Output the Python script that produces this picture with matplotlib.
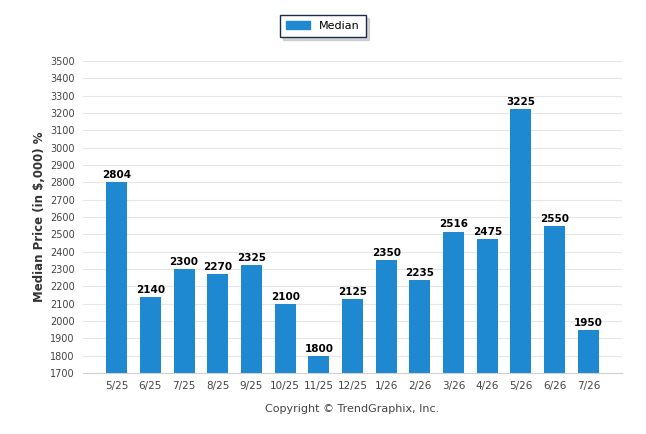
import matplotlib.pyplot as plt
from matplotlib.patches import Patch

months = ['5/25', '6/25', '7/25', '8/25', '9/25', '10/25', '11/25', '12/25',
          '1/26', '2/26', '3/26', '4/26', '5/26', '6/26', '7/26']
median = [2804, 2140, 2300, 2270, 2325, 2100, 1800, 2125,
          2350, 2235, 2516, 2475, 3225, 2550, 1950]
yticks = list(range(1700, 3501, 100))

blue = '#1e88d0'

fig = plt.figure(figsize=(6.46, 4.34), dpi=100)
ax = fig.add_axes([83 / 646, 61 / 434, 539 / 646, 312 / 434])

x = list(range(len(months)))
ax.bar(x, median, width=0.62, color=blue, zorder=2)
for xi, v in zip(x, median):
    ax.text(xi, v + 12, str(v), ha='center', va='bottom', fontsize=7.5,
            fontweight='bold', color='black')

ax.set_xlim(-1, 15)
ax.set_ylim(1700, 3500)
ax.set_yticks(yticks)
ax.set_yticklabels([str(t) for t in yticks], fontsize=7, color='#444444')
ax.set_xticks(x)
ax.set_xticklabels(months, fontsize=7.5, color='#444444')
ax.tick_params(axis='both', length=0, pad=6)
ax.grid(axis='y', color='#e6e6e6', linewidth=0.8, zorder=0)
for s in ['top', 'right', 'left']:
    ax.spines[s].set_visible(False)
ax.spines['bottom'].set_color('#d0d0d0')

ax.set_ylabel('Median Price (in $,000) %', fontsize=8.5, fontweight='bold',
              color='#333333', labelpad=3)

leg = fig.legend(handles=[Patch(color=blue, label='Median')], loc='center',
                 bbox_to_anchor=(323 / 646, 1 - 26 / 434), fontsize=8,
                 frameon=True, fancybox=False,
                 shadow={'color': '#bbbbbb', 'alpha': 0.6},
                 handlelength=2.2, handleheight=0.8, borderpad=0.55,
                 borderaxespad=0)
leg.get_frame().set_edgecolor('#1a2a4a')
leg.get_frame().set_linewidth(1.0)

fig.text(352 / 646, 1 - 409 / 434, 'Copyright \u00a9 TrendGraphix, Inc.',
         ha='center', va='center', fontsize=8, color='#444444')

fig.savefig('out.png', dpi=100)
